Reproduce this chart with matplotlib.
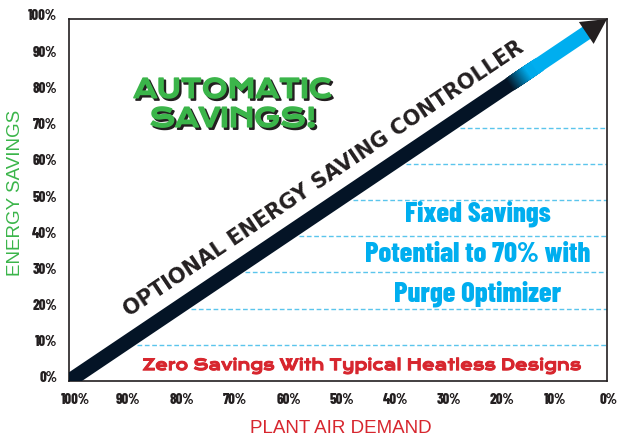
import numpy as np
import matplotlib
matplotlib.use("Agg")
import matplotlib.pyplot as plt
import matplotlib.patheffects as pe
from matplotlib.collections import LineCollection
from matplotlib.colors import to_rgb
from matplotlib.transforms import ScaledTranslation

# tick values (percent)
demand_ticks = [100, 90, 80, 70, 60, 50, 40, 30, 20, 10, 0]
savings_ticks = [0, 10, 20, 30, 40, 50, 60, 70, 80, 90, 100]

# controller arrow, as (plant air demand %, energy savings %)
arrow_start = (100, 0)
arrow_end = (0, 100)
# demand range where the band fades from dark to blue
fade_from = 17.0
fade_to = 13.5

# fixed savings levels drawn as dashed lines
fixed_levels = [10, 20, 30, 40, 50, 60, 70]

fixed_lines = ["Fixed Savings", "Potential to 70% with", "Purge Optimizer"]
fixed_baselines = [44, 33, 22]

DARK = "#231f20"
BAND = "#041426"
BLUE = "#00aeef"
GREEN = "#3bb54a"
RED = "#d7262e"
narrow = ["Barlow Condensed", "Liberation Sans Narrow", "DejaVu Sans"]
wide = ["Krona One", "Lexend Zetta", "DejaVu Sans"]
plain = ["Liberation Sans", "DejaVu Sans"]


def on_arrow(d):
    """Savings value of the arrow centre line at plant air demand d."""
    t = (arrow_start[0] - d) / (arrow_start[0] - arrow_end[0])
    return arrow_start[1] + t * (arrow_end[1] - arrow_start[1])


def demand_at(s):
    """Plant air demand where the arrow reaches savings s."""
    t = (s - arrow_start[1]) / (arrow_end[1] - arrow_start[1])
    return arrow_start[0] + t * (arrow_end[0] - arrow_start[0])


fig = plt.figure(figsize=(6.17, 4.38), dpi=100)
ax = fig.add_axes([69 / 617, 57 / 438, 538 / 617, 362 / 438])
ax.set_xlim(100, 0)
ax.set_ylim(0, 100)

ax.set_xticks(demand_ticks, [f"{v}%" for v in demand_ticks])
ax.set_yticks(savings_ticks, [f"{v}%" for v in savings_ticks])
ax.tick_params(length=0, pad=8.5, labelsize=10.5, labelcolor=DARK)
for sp in ax.spines.values():
    sp.set_color(DARK)
    sp.set_linewidth(1.2)

# the printed labels sit a little right of / above their grid positions
yshift = ScaledTranslation(0, 4 / 100, fig.dpi_scale_trans)
xlabs = ax.get_xticklabels()
for i, lab in enumerate(xlabs):
    px = 6 - 4.5 * i / (len(xlabs) - 1)
    lab.set_family(narrow)
    lab.set_weight(800)
    lab.set_transform(lab.get_transform()
                      + ScaledTranslation(px / 100, 0, fig.dpi_scale_trans))
for lab in ax.get_yticklabels():
    lab.set_family(narrow)
    lab.set_weight(800)
    lab.set_transform(lab.get_transform() + yshift)

ax.set_ylabel("ENERGY SAVINGS", color=GREEN, fontsize=13.5, family=plain, va="center")
ax.yaxis.set_label_coords(-0.1, 0.519)
ax.set_xlabel("PLANT AIR DEMAND", color=RED, fontsize=13.5, family=plain, va="center")
ax.xaxis.set_label_coords(0.5056, -0.13)

# dashed fixed-savings lines, starting just right of the band
gap = 2.7
for lvl in fixed_levels:
    ax.plot([demand_at(lvl) - gap, 0], [lvl, lvl], color="#5bc5ec", lw=1.0,
            dashes=(3.4, 1.9), zorder=1)

# the band: dark part, fade, blue part
band_lw = 10.4
tip_back = 2.5
ax.plot([arrow_start[0], fade_from], [arrow_start[1], on_arrow(fade_from)],
        color=BAND, lw=band_lw, solid_capstyle="butt", zorder=3)
n = 20
ds = np.linspace(fade_from, fade_to, n + 1)
segs = [[(ds[i], on_arrow(ds[i])), (ds[i + 1], on_arrow(ds[i + 1]))] for i in range(n)]
c0, c1 = np.array(to_rgb(BAND)), np.array(to_rgb(BLUE))
cols = [c0 + (c1 - c0) * (i + 0.5) / n for i in range(n)]
ax.add_collection(LineCollection(segs, colors=cols, linewidths=band_lw,
                                 capstyle="projecting", zorder=3))
ax.plot([fade_to, tip_back], [on_arrow(fade_to), on_arrow(tip_back)],
        color=BLUE, lw=band_lw, solid_capstyle="butt", zorder=3)

ax.annotate("", xy=arrow_end, xytext=(10, on_arrow(10)), annotation_clip=False,
            arrowprops=dict(arrowstyle="-|>,head_length=1.8,head_width=0.95",
                            mutation_scale=10, shrinkA=0, shrinkB=0,
                            fc=DARK, ec=DARK, lw=0),
            zorder=5)

# label along the band
p0 = ax.transData.transform(arrow_start)
p1 = ax.transData.transform(arrow_end)
ang = np.degrees(np.arctan2(p1[1] - p0[1], p1[0] - p0[0]))
off = 14.0  # points, perpendicular to the band
ax.annotate("OPTIONAL ENERGY SAVING CONTROLLER", xy=(50, on_arrow(50)),
            xytext=(-off * np.sin(np.radians(ang)), off * np.cos(np.radians(ang))),
            textcoords="offset points", rotation=ang, rotation_mode="anchor",
            ha="center", va="baseline", fontsize=15, fontweight="bold", color=DARK)

ax.text(69.5, 76.3, "AUTOMATIC\nSAVINGS!", ha="center", va="center",
        multialignment="center", linespacing=1.1, fontsize=18.5, fontweight="bold",
        family=wide, color=GREEN,
        path_effects=[pe.SimplePatchShadow(offset=(1.6, -1.6), shadow_rgbFace=DARK,
                                           alpha=1.0, linewidth=1.3, foreground=DARK),
                      pe.Stroke(linewidth=1.1, foreground=GREEN), pe.Normal()])

for txt, yb in zip(fixed_lines, fixed_baselines):
    ax.text(24, yb, txt, ha="center", va="baseline", fontsize=20.5,
            fontweight=800, family=narrow, color=BLUE)

ax.text(45.5, 3.0, "Zero Savings With Typical Heatless Designs", ha="center",
        va="baseline", fontsize=11, fontweight="bold", family=wide, color=RED,
        path_effects=[pe.Stroke(linewidth=0.7, foreground=RED), pe.Normal()])

fig.savefig("out.png", dpi=100)
